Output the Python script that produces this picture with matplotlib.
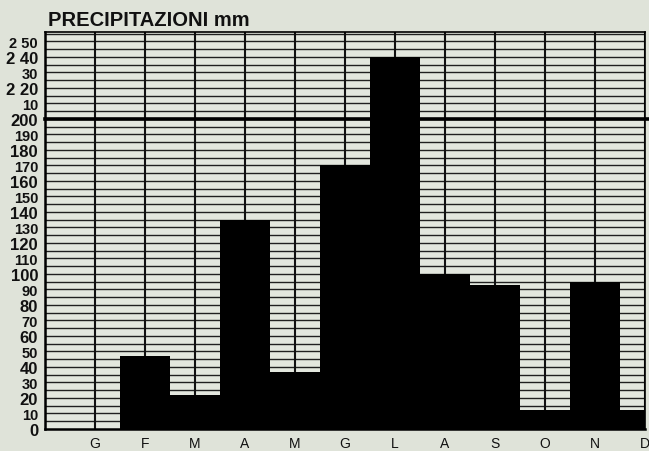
import numpy as np
import matplotlib.pyplot as plt

# Monthly precipitation (mm)
months = ["G", "F", "M", "A", "M", "G", "L", "A", "S", "O", "N", "D"]
rain = [0, 47, 22, 135, 37, 170, 240, 100, 93, 12, 95, 12]

# y tick labels as printed (the upper ones are oddly written)
ytick_vals = list(range(0, 260, 10))
ytick_labels = [str(v) for v in range(0, 210, 10)] + ["10", "2 20", "30", "2 40", "2 50"]

BG = "#dfe3d9"
FONT = "Liberation Sans"

fig = plt.figure(figsize=(6.49, 4.52), dpi=100, facecolor=BG)
ax = fig.add_axes([45 / 649, 1 - 430 / 452, 600 / 649, 397 / 452])
ax.set_facecolor("#e3e7de")

x = np.arange(1, len(months) + 1)

# grid: horizontal every 5 mm, vertical at each month
for y in np.arange(5, 256, 5):
    ax.axhline(y, color="#202020", lw=1.0, zorder=1)
for xv in range(0, 13):
    ax.axvline(xv, color="#101010", lw=1.5, zorder=1)

ax.bar(x, rain, width=1.0, color="black", zorder=3)

# heavy line at 200 mm, running out to the edge
ax.plot([0, 12.1], [200, 200], color="black", lw=2.6, zorder=4, clip_on=False)

ax.set_xlim(0, 12)
ax.set_ylim(0, 256)

ax.set_xticks(x)
ax.set_xticklabels(months, fontsize=10, family=FONT, color="#111111")
ax.set_yticks(ytick_vals)
ax.set_yticklabels(ytick_labels, family=FONT, color="#111111")
for i, lab in enumerate(ax.get_yticklabels()):
    if i % 2 == 0:
        lab.set_fontsize(12)
    else:
        lab.set_fontsize(10.5)
    lab.set_fontweight("bold")
ax.tick_params(length=0, pad=5)
ax.tick_params(axis="x", pad=5)

for s in ["left", "bottom"]:
    ax.spines[s].set_linewidth(1.8)
for s in ["top", "right"]:
    ax.spines[s].set_linewidth(1.2)

fig.text(48 / 649, 1 - 21 / 452, "PRECIPITAZIONI mm", fontsize=14.5, fontweight="bold",
         family=FONT, va="center", ha="left", color="#111111")

fig.savefig("out.png", dpi=100, facecolor=BG)
